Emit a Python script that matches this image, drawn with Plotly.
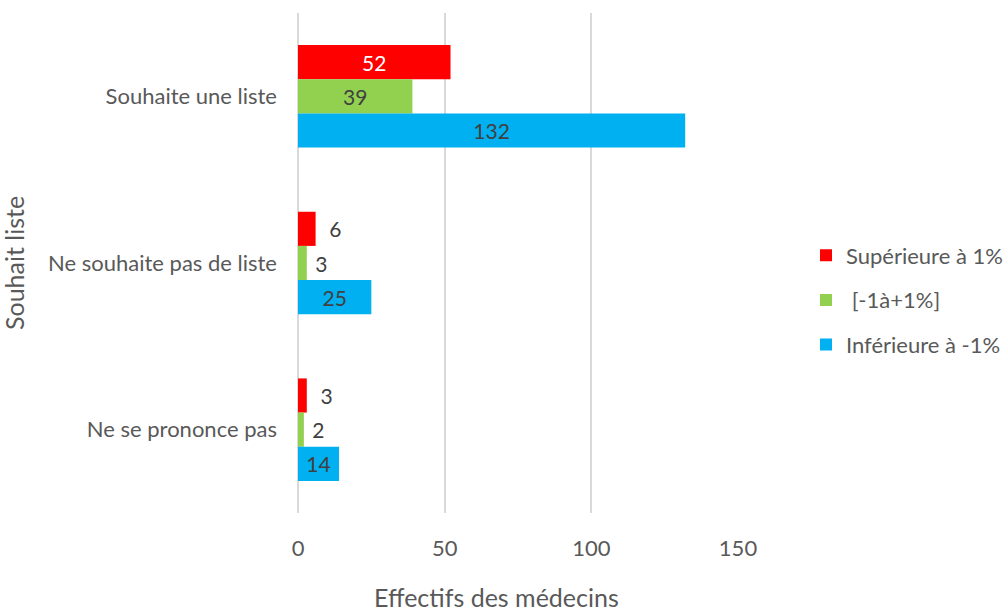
import plotly.graph_objects as go

categories = ["Souhaite une liste", "Ne souhaite pas de liste", "Ne se prononce pas"]
series_names = ["Supérieure à 1%", " [-1à+1%]", "Inférieure à -1%"]
sup_1 = [52, 6, 3]
mid = [39, 3, 2]
inf_1 = [132, 25, 14]
colors = ["#FF0000", "#92D050", "#00B0F0"]
x_ticks = [0, 50, 100, 150]

FONT = "Lato, Open Sans, sans-serif"
GRID = "#D9D9D9"
fig = go.Figure()

for name, vals, col, tcol, pad in zip(series_names, [sup_1, mid, inf_1], colors,
                                      ["#FFFFFF", "#404040", "#404040"], ["  ", " ", " "]):
    inside = [v >= 10 for v in vals]
    fig.add_trace(go.Bar(
        y=categories, x=vals, name=name, orientation="h",
        marker=dict(color=col, line=dict(width=0)),
        text=[str(v) if ins else pad + str(v) for v, ins in zip(vals, inside)],
        textposition=["inside" if ins else "outside" for ins in inside],
        insidetextanchor="middle",
        insidetextfont=dict(color=tcol, size=21, family=FONT),
        outsidetextfont=dict(color="#404040", size=21, family=FONT),
        cliponaxis=False, legendgroup=name,
    ))

fig.update_layout(
    width=1006, height=612,
    paper_bgcolor="white", plot_bgcolor="white",
    barmode="group", bargap=0.385, bargroupgap=0,
    margin=dict(l=298, r=268, t=13, b=99, autoexpand=False),
    font=dict(family=FONT, color="#595959", size=22),
    showlegend=True,
    legend=dict(x=(806 - 298) / 440, xanchor="left", y=0.426, yanchor="middle",
                font=dict(size=22, color="#595959", family=FONT),
                traceorder="grouped", tracegroupgap=13),
)
fig.update_xaxes(range=[0, 150], tickvals=x_ticks, showgrid=True,
                 gridcolor=GRID, gridwidth=2, zeroline=True, zerolinecolor=GRID,
                 zerolinewidth=2, showline=False,
                 tickfont=dict(size=22, color="#595959"), ticklabelstandoff=20)
fig.update_yaxes(categoryorder="array", categoryarray=categories, autorange="reversed",
                 showgrid=False, zeroline=False, showline=False,
                 tickfont=dict(size=22, color="#595959"), ticklabelstandoff=20)
fig.add_annotation(text="Effectifs des médecins", xref="paper", yref="paper",
                   x=(496 - 298) / 440, y=-(597 - 513) / 500, xanchor="center", yanchor="middle",
                   showarrow=False, font=dict(size=25, color="#595959", family=FONT))
fig.add_annotation(text="Souhait liste", xref="paper", yref="paper",
                   x=(14 - 298) / 440, y=(513 - 263) / 500, xanchor="center", yanchor="middle",
                   textangle=-90, showarrow=False,
                   font=dict(size=25, color="#595959", family=FONT))
fig.write_html("out.html", post_script="document.body.style.margin='0';",
               config={"displayModeBar": False})
